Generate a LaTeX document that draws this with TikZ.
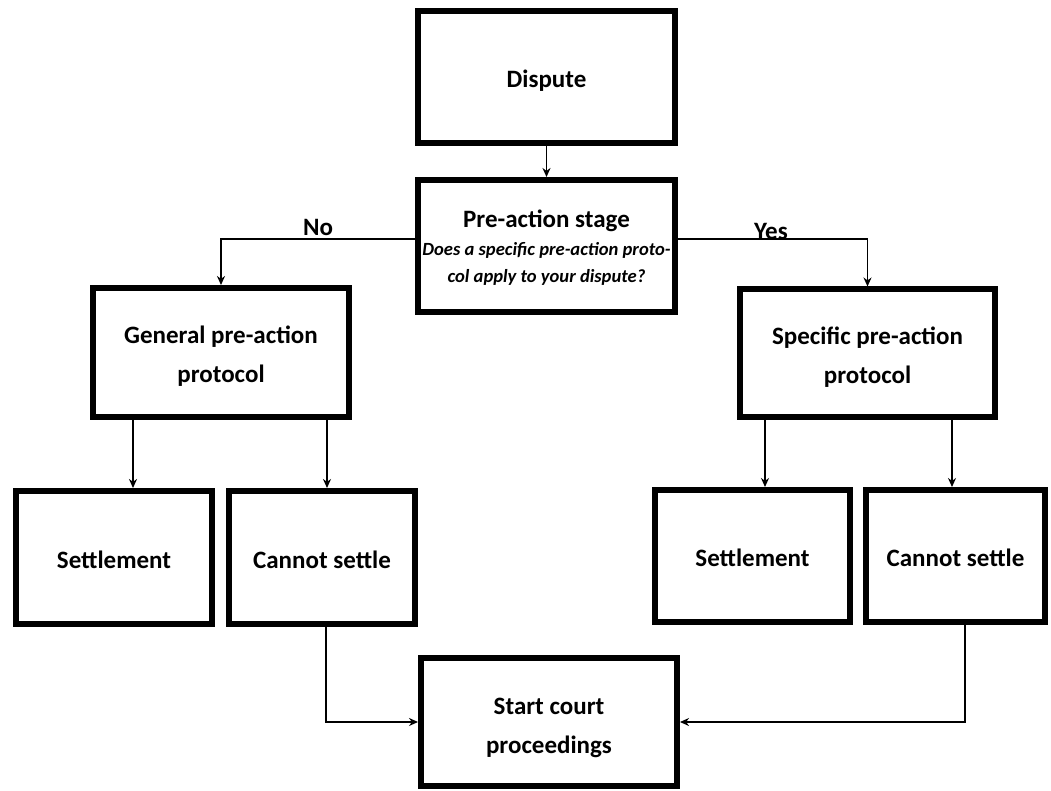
\documentclass[tikz,border=0pt]{standalone}
\usepackage{fontspec}
\setmainfont{Carlito}
\usetikzlibrary{arrows.meta}
\tikzset{
  box/.style={draw=black, line width=6pt, fill=white, inner sep=0pt, align=center,
    text height=21pt, text depth=0pt,
    font=\bfseries\fontsize{25}{39}\selectfont},
  twoline/.style={text height=60pt, text depth=0pt},
  conn/.style={draw=black, line width=1.8pt, -{Stealth[length=9pt,width=8pt]}},
  lbl/.style={font=\bfseries\fontsize{25}{30}\selectfont, inner sep=0pt}
}
\begin{document}
\begin{tikzpicture}[x=1pt,y=-1pt]
\useasboundingbox[fill=white] (0,0) rectangle (1051,791);
% boxes
\node[box, minimum width=257pt, minimum height=132pt] (disp) at (546.5,77) {Dispute};
\node[box, minimum width=257pt, minimum height=132pt] (pre) at (546.5,246) {};
\node[font=\bfseries\fontsize{25}{30}\selectfont, inner sep=0pt] (pretitle) at (546.5,221) {Pre-action stage};
\node[font=\bfseries\itshape\fontsize{18.6}{27}\selectfont, align=center, inner sep=0pt] (preq) at (546.5,264) {Does a specific pre-action proto-\\col apply to your dispute?};
\node[box, twoline, minimum width=256pt, minimum height=129pt] (gen) at (221,352.5) {General pre-action\\protocol};
\node[box, twoline, minimum width=255pt, minimum height=127pt] (spec) at (867.5,353) {Specific pre-action\\protocol};
\node[box, minimum width=196pt, minimum height=133pt] (setL) at (114,557.5) {Settlement};
\node[box, minimum width=186pt, minimum height=133pt] (canL) at (322,557.5) {Cannot settle};
\node[box, minimum width=195pt, minimum height=132pt] (setR) at (752.5,556) {Settlement};
\node[box, minimum width=179pt, minimum height=132pt] (canR) at (955.5,556) {Cannot settle};
\node[box, twoline, text height=63pt, minimum width=256pt, minimum height=128pt] (start) at (549,722) {Start court\\proceedings};
% labels
\node[lbl] (no) at (318,227) {No};
\node[lbl] (yes) at (771,231) {Yes};
% connectors
\draw[conn] (disp.south) -- (pre.north);
\draw[conn] (pre.west |- 0,239) -| (gen.north);
\draw[conn] (pre.east |- 0,239) -| (spec.north);
\draw[conn] (gen.south -| 133,0) -- (setL.north -| 133,0);
\draw[conn] (gen.south -| 327,0) -- (canL.north -| 327,0);
\draw[conn] (spec.south -| 765,0) -- (setR.north -| 765,0);
\draw[conn] (spec.south -| 952,0) -- (canR.north -| 952,0);
\draw[conn] (canL.south -| 326,0) |- (start.west);
\draw[conn] (canR.south -| 965,0) |- (start.east);
\end{tikzpicture}
\end{document}
